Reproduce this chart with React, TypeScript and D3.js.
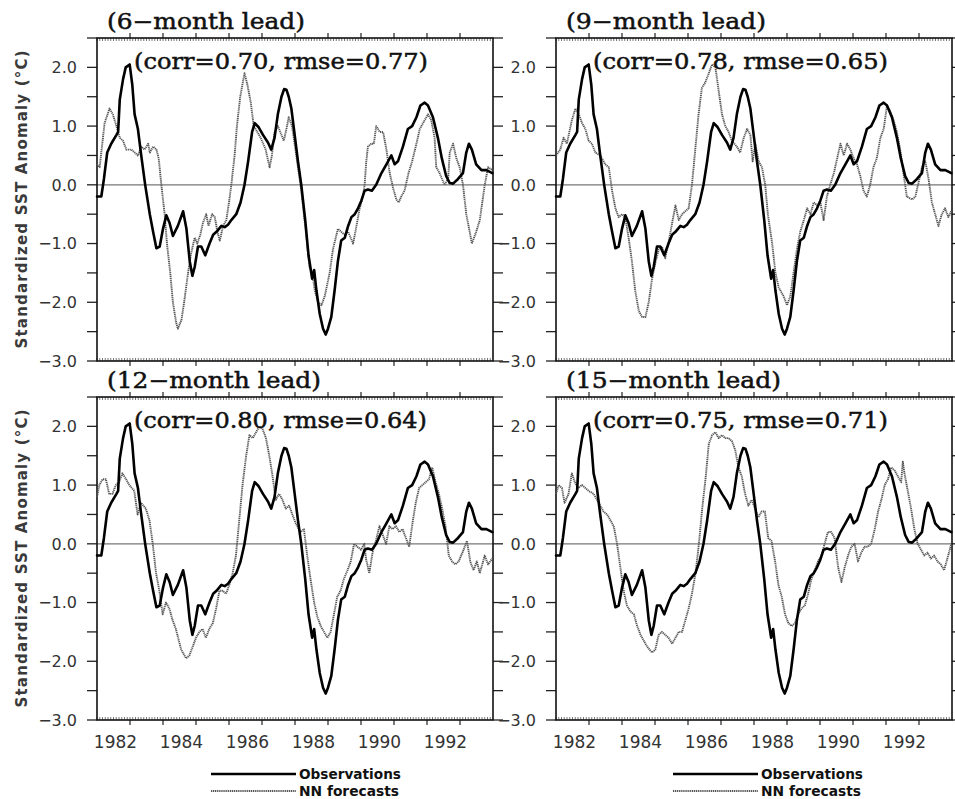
import React from "react";
import * as d3 from "d3";

// Niño-3 standardized SST anomaly, observed (monthly, smoothed)
const observations: [number, number][] = [
  [1982.0, -0.2], [1982.13, -0.2], [1982.21, 0.1], [1982.31, 0.55], [1982.43, 0.7],
  [1982.59, 0.85], [1982.64, 0.9], [1982.69, 1.45], [1982.79, 1.8], [1982.87, 2.0],
  [1982.99, 2.05], [1983.07, 1.7], [1983.14, 1.2], [1983.24, 0.95], [1983.34, 0.5],
  [1983.46, 0.0], [1983.6, -0.5], [1983.7, -0.8], [1983.8, -1.08], [1983.9, -1.05],
  [1984.0, -0.75], [1984.1, -0.52], [1984.2, -0.65], [1984.3, -0.87], [1984.45, -0.7],
  [1984.61, -0.45], [1984.71, -0.75], [1984.81, -1.3], [1984.89, -1.55], [1984.96, -1.4],
  [1985.06, -1.05], [1985.16, -1.05], [1985.28, -1.2], [1985.41, -1.0], [1985.52, -0.85],
  [1985.62, -0.8], [1985.77, -0.7], [1985.87, -0.72], [1985.97, -0.68], [1986.07, -0.6],
  [1986.22, -0.5], [1986.35, -0.3], [1986.47, 0.0], [1986.58, 0.4], [1986.7, 0.9],
  [1986.78, 1.05], [1986.9, 0.98], [1987.03, 0.85], [1987.18, 0.72], [1987.28, 0.6],
  [1987.38, 0.8], [1987.48, 1.2], [1987.59, 1.5], [1987.67, 1.63], [1987.74, 1.62],
  [1987.81, 1.5], [1987.89, 1.3], [1987.99, 0.85], [1988.09, 0.4], [1988.19, 0.0],
  [1988.31, -0.6], [1988.41, -1.2], [1988.52, -1.6], [1988.58, -1.45], [1988.65, -1.8],
  [1988.75, -2.2], [1988.85, -2.45], [1988.93, -2.55], [1989.0, -2.45], [1989.1, -2.25],
  [1989.2, -1.8], [1989.3, -1.3], [1989.4, -0.95], [1989.51, -0.9], [1989.61, -0.7],
  [1989.71, -0.55], [1989.81, -0.5], [1989.91, -0.4], [1990.01, -0.27], [1990.11, -0.1],
  [1990.21, -0.08], [1990.33, -0.1], [1990.46, 0.0], [1990.62, 0.2], [1990.77, 0.35],
  [1990.92, 0.5], [1991.02, 0.35], [1991.12, 0.4], [1991.27, 0.65], [1991.42, 0.95],
  [1991.55, 1.0], [1991.68, 1.15], [1991.8, 1.35], [1991.93, 1.4], [1992.03, 1.35],
  [1992.18, 1.15], [1992.33, 0.8], [1992.45, 0.45], [1992.58, 0.15], [1992.69, 0.03],
  [1992.79, 0.02], [1992.94, 0.1], [1993.09, 0.2], [1993.19, 0.55], [1993.27, 0.7],
  [1993.36, 0.6], [1993.49, 0.35], [1993.65, 0.25], [1993.8, 0.25], [1993.98, 0.2],
];

// Neural-network forecasts at each lead time
const lead6: [number, number][] = [
  [1982.0, 0.35], [1982.08, 0.3], [1982.23, 1.05], [1982.38, 1.3], [1982.48, 1.2],
  [1982.59, 1.0], [1982.69, 0.8], [1982.79, 0.75], [1982.89, 0.6], [1983.04, 0.6],
  [1983.14, 0.55], [1983.24, 0.5], [1983.34, 0.65], [1983.44, 0.6], [1983.55, 0.7],
  [1983.6, 0.55], [1983.7, 0.65], [1983.8, 0.6], [1983.87, 0.45], [1983.95, 0.0],
  [1984.05, -0.5], [1984.12, -1.0], [1984.22, -1.5], [1984.3, -2.0], [1984.4, -2.35],
  [1984.45, -2.45], [1984.56, -2.3], [1984.64, -2.0], [1984.76, -1.5], [1984.84, -1.2],
  [1984.96, -0.9], [1985.04, -1.0], [1985.13, -0.85], [1985.21, -0.65], [1985.31, -0.5],
  [1985.38, -0.7], [1985.49, -0.5], [1985.57, -0.55], [1985.65, -0.8], [1985.72, -0.95],
  [1985.82, -0.7], [1985.92, -0.6], [1986.0, -0.3], [1986.07, 0.0], [1986.17, 0.5],
  [1986.24, 1.0], [1986.34, 1.5], [1986.47, 1.9], [1986.56, 1.7], [1986.66, 1.4],
  [1986.75, 1.0], [1986.86, 0.9], [1986.96, 0.8], [1987.11, 0.6], [1987.23, 0.3],
  [1987.3, 0.5], [1987.38, 0.9], [1987.48, 1.0], [1987.59, 0.85], [1987.66, 0.75],
  [1987.74, 0.95], [1987.81, 1.15], [1987.91, 1.0], [1988.04, 0.5], [1988.19, -0.1],
  [1988.31, -0.7], [1988.44, -1.4], [1988.52, -1.5], [1988.6, -1.8], [1988.7, -2.0],
  [1988.8, -2.05], [1988.9, -1.9], [1989.05, -1.5], [1989.15, -1.1], [1989.3, -0.75],
  [1989.4, -0.8], [1989.51, -0.85], [1989.61, -0.8], [1989.76, -1.0], [1989.83, -0.8],
  [1989.96, -0.4], [1990.06, -0.2], [1990.11, 0.0], [1990.16, 0.4], [1990.21, 0.65],
  [1990.31, 0.7], [1990.39, 0.7], [1990.46, 1.0], [1990.57, 0.9], [1990.67, 0.9],
  [1990.77, 0.6], [1990.87, 0.2], [1990.97, -0.05], [1991.07, -0.25], [1991.14, -0.3],
  [1991.22, -0.2], [1991.32, -0.1], [1991.44, 0.2], [1991.55, 0.4], [1991.68, 0.7],
  [1991.78, 0.95], [1991.88, 1.05], [1992.03, 1.2], [1992.13, 1.1], [1992.23, 0.8],
  [1992.28, 0.3], [1992.38, 0.2], [1992.53, 0.0], [1992.64, 0.1], [1992.69, 0.55],
  [1992.79, 0.7], [1992.89, 0.45], [1992.99, 0.3], [1993.09, 0.0], [1993.19, -0.5],
  [1993.26, -0.7], [1993.36, -1.0], [1993.49, -0.8], [1993.6, -0.6], [1993.75, 0.0],
  [1993.85, 0.3], [1993.98, 0.25],
];

const lead9: [number, number][] = [
  [1982.0, 0.5], [1982.13, 0.6], [1982.23, 0.8], [1982.33, 0.7], [1982.48, 1.1],
  [1982.59, 1.3], [1982.69, 1.2], [1982.79, 1.05], [1982.89, 0.95], [1982.99, 0.75],
  [1983.09, 0.7], [1983.19, 0.55], [1983.34, 0.5], [1983.49, 0.35], [1983.6, 0.3],
  [1983.7, -0.1], [1983.8, -0.4], [1983.9, -0.55], [1984.0, -0.5], [1984.1, -0.55],
  [1984.2, -0.9], [1984.3, -1.3], [1984.4, -1.8], [1984.51, -2.15], [1984.61, -2.25],
  [1984.71, -2.25], [1984.81, -2.0], [1984.91, -1.6], [1985.02, -1.3], [1985.12, -1.1],
  [1985.21, -1.05], [1985.31, -1.25], [1985.42, -0.95], [1985.52, -0.65], [1985.62, -0.35],
  [1985.72, -0.6], [1985.82, -0.5], [1985.92, -0.45], [1986.02, -0.4], [1986.12, 0.0],
  [1986.22, 0.6], [1986.32, 1.2], [1986.42, 1.65], [1986.53, 1.75], [1986.63, 1.9],
  [1986.73, 2.05], [1986.83, 2.0], [1986.93, 1.6], [1987.03, 1.2], [1987.13, 1.0],
  [1987.23, 0.9], [1987.33, 0.75], [1987.48, 0.65], [1987.58, 0.55], [1987.69, 0.8],
  [1987.79, 0.95], [1987.89, 0.85], [1987.96, 0.4], [1988.04, 0.7], [1988.14, 0.4],
  [1988.24, 0.3], [1988.34, 0.0], [1988.42, -0.5], [1988.55, -1.0], [1988.65, -1.5],
  [1988.75, -1.75], [1988.9, -1.9], [1989.0, -2.05], [1989.1, -1.9], [1989.2, -1.5],
  [1989.3, -1.1], [1989.4, -0.8], [1989.51, -0.6], [1989.61, -0.4], [1989.71, -0.5],
  [1989.81, -0.3], [1989.91, -0.35], [1990.01, -0.3], [1990.11, -0.6], [1990.21, -0.2],
  [1990.31, 0.0], [1990.42, 0.2], [1990.52, 0.45], [1990.62, 0.7], [1990.72, 0.5],
  [1990.82, 0.7], [1990.92, 0.6], [1991.02, 0.45], [1991.12, 0.35], [1991.22, 0.15],
  [1991.32, -0.1], [1991.42, -0.2], [1991.52, 0.0], [1991.62, 0.3], [1991.72, 0.45],
  [1991.83, 0.8], [1991.93, 0.95], [1992.03, 1.35], [1992.13, 1.25], [1992.23, 1.1],
  [1992.33, 0.9], [1992.43, 0.6], [1992.53, 0.2], [1992.63, -0.2], [1992.79, -0.25],
  [1992.89, -0.2], [1992.99, 0.05], [1993.09, 0.3], [1993.19, 0.4], [1993.29, 0.1],
  [1993.39, -0.3], [1993.49, -0.5], [1993.59, -0.7], [1993.69, -0.5], [1993.79, -0.4],
  [1993.89, -0.55], [1993.98, -0.45],
];

const lead12: [number, number][] = [
  [1982.0, 0.8], [1982.07, 1.0], [1982.17, 1.1], [1982.27, 1.1], [1982.37, 0.85],
  [1982.47, 0.85], [1982.57, 1.0], [1982.67, 1.05], [1982.77, 1.2], [1982.88, 1.1],
  [1982.98, 1.0], [1983.13, 0.9], [1983.23, 0.5], [1983.33, 0.7], [1983.48, 0.6],
  [1983.59, 0.4], [1983.69, 0.0], [1983.79, -0.5], [1983.89, -0.8], [1983.99, -1.2],
  [1984.09, -1.0], [1984.19, -1.1], [1984.29, -1.3], [1984.39, -1.45], [1984.55, -1.8],
  [1984.7, -1.95], [1984.8, -1.9], [1984.9, -1.75], [1985.0, -1.6], [1985.1, -1.5],
  [1985.2, -1.45], [1985.3, -1.6], [1985.4, -1.45], [1985.51, -1.35], [1985.61, -1.1],
  [1985.71, -0.8], [1985.81, -0.8], [1985.91, -0.85], [1986.01, -0.7], [1986.11, -0.5],
  [1986.21, -0.2], [1986.31, 0.4], [1986.41, 1.0], [1986.52, 1.5], [1986.62, 1.85],
  [1986.72, 1.8], [1986.82, 1.9], [1986.92, 2.0], [1987.02, 1.95], [1987.12, 1.8],
  [1987.22, 1.5], [1987.32, 1.15], [1987.42, 0.75], [1987.52, 0.85], [1987.62, 0.75],
  [1987.72, 0.6], [1987.82, 0.65], [1987.92, 0.5], [1988.02, 0.35], [1988.17, 0.2],
  [1988.27, 0.25], [1988.37, -0.2], [1988.47, -0.6], [1988.58, -1.0], [1988.68, -1.25],
  [1988.78, -1.4], [1988.88, -1.5], [1988.98, -1.6], [1989.08, -1.5], [1989.18, -1.2],
  [1989.28, -0.9], [1989.38, -0.8], [1989.48, -0.6], [1989.59, -0.45], [1989.69, -0.3],
  [1989.79, 0.0], [1989.89, -0.05], [1990.0, -0.1], [1990.1, 0.0], [1990.15, -0.25],
  [1990.25, -0.5], [1990.35, -0.15], [1990.45, 0.05], [1990.56, 0.3], [1990.66, 0.15],
  [1990.76, 0.0], [1990.86, 0.3], [1990.96, 0.25], [1991.06, 0.3], [1991.16, 0.2],
  [1991.26, 0.25], [1991.36, 0.1], [1991.46, -0.05], [1991.56, 0.35], [1991.66, 0.7],
  [1991.76, 0.95], [1991.86, 1.0], [1991.96, 1.05], [1992.06, 1.1], [1992.16, 1.3],
  [1992.26, 1.05], [1992.36, 0.85], [1992.46, 0.6], [1992.56, 0.3], [1992.66, -0.2],
  [1992.76, -0.3], [1992.86, -0.35], [1992.96, -0.3], [1993.11, -0.1], [1993.21, 0.05],
  [1993.31, -0.3], [1993.41, -0.45], [1993.51, -0.3], [1993.6, -0.5], [1993.75, -0.2],
  [1993.85, -0.35], [1993.98, -0.25],
];

const lead15: [number, number][] = [
  [1982.0, 0.85], [1982.08, 1.0], [1982.18, 0.95], [1982.26, 0.7], [1982.38, 0.85],
  [1982.48, 1.2], [1982.57, 1.05], [1982.67, 0.95], [1982.79, 1.0], [1982.89, 0.95],
  [1982.99, 0.9], [1983.14, 0.85], [1983.24, 0.75], [1983.34, 0.65], [1983.44, 0.55],
  [1983.55, 0.5], [1983.65, 0.4], [1983.75, 0.3], [1983.85, 0.0], [1983.95, -0.4],
  [1984.05, -0.8], [1984.15, -1.05], [1984.25, -1.15], [1984.36, -1.2], [1984.46, -1.4],
  [1984.56, -1.55], [1984.66, -1.65], [1984.76, -1.75], [1984.91, -1.85], [1985.01, -1.8],
  [1985.11, -1.55], [1985.21, -1.5], [1985.31, -1.55], [1985.41, -1.6], [1985.52, -1.7],
  [1985.62, -1.6], [1985.72, -1.5], [1985.82, -1.5], [1985.92, -1.3], [1986.02, -1.1],
  [1986.12, -0.85], [1986.23, -0.5], [1986.33, 0.0], [1986.43, 0.6], [1986.53, 1.1],
  [1986.63, 1.7], [1986.73, 1.85], [1986.83, 1.9], [1986.93, 1.8], [1987.03, 1.85],
  [1987.13, 1.8], [1987.23, 1.8], [1987.33, 1.75], [1987.43, 1.6], [1987.53, 1.3],
  [1987.63, 1.15], [1987.73, 0.85], [1987.83, 0.65], [1987.93, 0.75], [1988.03, 0.6],
  [1988.13, 0.45], [1988.23, 0.55], [1988.33, 0.55], [1988.43, 0.1], [1988.53, 0.05],
  [1988.64, -0.3], [1988.74, -0.7], [1988.84, -0.9], [1988.94, -1.2], [1989.04, -1.35],
  [1989.14, -1.4], [1989.24, -1.35], [1989.34, -1.2], [1989.44, -1.1], [1989.54, -1.05],
  [1989.64, -0.85], [1989.74, -0.6], [1989.84, -0.45], [1989.94, -0.3], [1990.04, -0.2],
  [1990.14, 0.0], [1990.24, 0.2], [1990.34, 0.2], [1990.44, 0.1], [1990.55, -0.4],
  [1990.65, -0.65], [1990.75, -0.4], [1990.85, -0.2], [1990.95, -0.05], [1991.05, 0.0],
  [1991.15, -0.3], [1991.25, -0.15], [1991.35, -0.05], [1991.45, -0.05], [1991.55, 0.0],
  [1991.66, 0.25], [1991.76, 0.55], [1991.86, 0.75], [1991.96, 1.0], [1992.06, 1.1],
  [1992.16, 1.3], [1992.26, 1.25], [1992.36, 1.15], [1992.46, 1.05], [1992.51, 1.4],
  [1992.56, 1.2], [1992.66, 0.9], [1992.76, 0.6], [1992.86, 0.25], [1992.96, 0.0],
  [1993.06, -0.1], [1993.16, -0.2], [1993.26, -0.15], [1993.36, -0.25], [1993.46, -0.2],
  [1993.56, -0.3], [1993.66, -0.35], [1993.76, -0.45], [1993.86, -0.25], [1993.98, 0.0],
];

const leadTitles = ["(6−month lead)", "(9−month lead)", "(12−month lead)", "(15−month lead)"];
const skillLabels = [
  "(corr=0.70, rmse=0.77)",
  "(corr=0.78, rmse=0.65)",
  "(corr=0.80, rmse=0.64)",
  "(corr=0.75, rmse=0.71)",
];
const yearLabels = [1982, 1984, 1986, 1988, 1990, 1992];
const yTickLabels = [-3, -2, -1, 0, 1, 2];
const legendLabels = ["Observations", "NN forecasts"];
const yAxisTitle = "Standardized SST Anomaly (°C)";

const W = 955;
const H = 799;
const PANEL_W = 396;
const PANEL_H = 323;
const X_DOMAIN: [number, number] = [1982, 1994];
const Y_DOMAIN: [number, number] = [-3, 2.5];

const fmt = d3.format(".1f");
const serif = "'DejaVu Serif', 'Liberation Serif', serif";
const sans = "'DejaVu Sans', 'Liberation Sans', sans-serif";

type PanelProps = {
  left: number;
  top: number;
  title: string;
  titleWidth: number;
  skill: string;
  skillWidth: number;
  forecast: [number, number][];
  showYears: boolean;
  showYTitle: boolean;
};

function Panel({ left, top, title, titleWidth, skill, skillWidth, forecast, showYears, showYTitle }: PanelProps) {
  const x = d3.scaleLinear().domain(X_DOMAIN).range([left, left + PANEL_W]);
  const y = d3.scaleLinear().domain(Y_DOMAIN).range([top + PANEL_H, top]);
  const line = d3
    .line<[number, number]>()
    .x((d) => x(d[0]))
    .y((d) => y(d[1]));

  const halfTicks = d3.range(Y_DOMAIN[0], Y_DOMAIN[1] + 0.01, 0.5);
  const yearTicks = d3.range(X_DOMAIN[0] + 1, X_DOMAIN[1], 1);
  const monthTicks = d3.range(X_DOMAIN[0], X_DOMAIN[1], 1 / 12);
  const right = left + PANEL_W;
  const bottom = top + PANEL_H;

  return (
    <g>
      {/* monthly minor ticks along top and bottom edges */}
      {monthTicks.map((t, i) => (
        <g key={"m" + i} stroke="#555" strokeWidth={0.8}>
          <line x1={x(t)} x2={x(t)} y1={top} y2={top + 3} />
          <line x1={x(t)} x2={x(t)} y1={bottom} y2={bottom - 3} />
        </g>
      ))}
      {/* yearly ticks, outward */}
      {yearTicks.map((t) => (
        <g key={"yr" + t} stroke="#222" strokeWidth={1.2}>
          <line x1={x(t)} x2={x(t)} y1={top} y2={top - 5} />
          <line x1={x(t)} x2={x(t)} y1={bottom} y2={bottom + 5} />
        </g>
      ))}
      {/* half-unit ticks on both vertical edges, outward */}
      {halfTicks.map((v) => (
        <g key={"h" + v} stroke="#222" strokeWidth={1.3}>
          <line x1={left - 10} x2={left} y1={y(v)} y2={y(v)} />
          <line x1={right} x2={right + 10} y1={y(v)} y2={y(v)} />
        </g>
      ))}
      {/* zero line */}
      <line x1={left} x2={right} y1={y(0)} y2={y(0)} stroke="#777" strokeWidth={1.3} />
      {/* frame */}
      <rect x={left} y={top} width={PANEL_W} height={PANEL_H} fill="none" stroke="#111" strokeWidth={1.6} />

      {/* forecast (dotted gray) and observations (solid black) */}
      <path d={line(forecast) ?? ""} fill="none" stroke="#555" strokeWidth={1.9} strokeDasharray="1.2 0.7" strokeLinejoin="round" />
      <path d={line(observations) ?? ""} fill="none" stroke="#000" strokeWidth={2.6} strokeLinejoin="round" strokeLinecap="round" />

      {/* y tick labels */}
      {yTickLabels.map((v) => (
        <text
          key={"yl" + v}
          x={left - 20}
          y={y(v)}
          dy="0.36em"
          textAnchor="end"
          fontFamily={sans}
          fontSize={16}
          fill="#333"
        >
          {fmt(v)}
        </text>
      ))}

      {showYears &&
        yearLabels.map((yr) => (
          <text
            key={"xl" + yr}
            x={x(yr + 0.5) + 2}
            y={bottom + 28}
            textAnchor="middle"
            fontFamily={sans}
            fontSize={17}
            fill="#333"
          >
            {yr}
          </text>
        ))}

      {showYTitle && (
        <text
          transform={`translate(27, ${top + PANEL_H / 2}) rotate(-90)`}
          textAnchor="middle"
          fontFamily={sans}
          fontWeight="bold"
          fontSize={15}
          fill="#3a3a3a"
          textLength={298}
          lengthAdjust="spacing"
        >
          {yAxisTitle}
        </text>
      )}

      <text
        x={left + 10}
        y={top - 9}
        fontFamily={serif}
        fontSize={22}
        fill="#111"
        stroke="#111"
        strokeWidth={0.5}
        textLength={titleWidth}
        lengthAdjust="spacingAndGlyphs"
      >
        {title}
      </text>
      <text
        x={left + 37}
        y={top + 31}
        fontFamily={serif}
        fontSize={22}
        fill="#111"
        stroke="#111"
        strokeWidth={0.5}
        textLength={skillWidth}
        lengthAdjust="spacingAndGlyphs"
      >
        {skill}
      </text>
    </g>
  );
}

function Legend({ x0, y0 }: { x0: number; y0: number }) {
  return (
    <g>
      <line x1={x0} x2={x0 + 85} y1={y0} y2={y0} stroke="#000" strokeWidth={2.4} />
      <text x={x0 + 88} y={y0 + 5} fontFamily={sans} fontWeight="bold" fontSize={14} fill="#111" textLength={102} lengthAdjust="spacingAndGlyphs">
        {legendLabels[0]}
      </text>
      <line x1={x0} x2={x0 + 85} y1={y0 + 17} y2={y0 + 17} stroke="#555" strokeWidth={1.9} strokeDasharray="1.2 0.7" />
      <text x={x0 + 88} y={y0 + 22} fontFamily={sans} fontWeight="bold" fontSize={14} fill="#111" textLength={100} lengthAdjust="spacingAndGlyphs">
        {legendLabels[1]}
      </text>
    </g>
  );
}

export default function App() {
  const panels = [
    { left: 97, top: 38, forecast: lead6, titleWidth: 198, skillWidth: 294, showYears: false, showYTitle: true },
    { left: 556, top: 38, forecast: lead9, titleWidth: 200, skillWidth: 295, showYears: false, showYTitle: false },
    { left: 97, top: 397, forecast: lead12, titleWidth: 214, skillWidth: 293, showYears: true, showYTitle: true },
    { left: 556, top: 397, forecast: lead15, titleWidth: 215, skillWidth: 295, showYears: true, showYTitle: false },
  ];
  return (
    <svg
      width={W}
      height={H}
      viewBox={`0 0 ${W} ${H}`}
      style={{ position: "absolute", left: 0, top: 0, display: "block", background: "#fff" }}
    >
      <rect width={W} height={H} fill="#fff" />
      {panels.map((p, i) => (
        <Panel
          key={i}
          left={p.left}
          top={p.top}
          title={leadTitles[i]}
          titleWidth={p.titleWidth}
          skill={skillLabels[i]}
          skillWidth={p.skillWidth}
          forecast={p.forecast}
          showYears={p.showYears}
          showYTitle={p.showYTitle}
        />
      ))}
      <Legend x0={211} y0={774} />
      <Legend x0={673} y0={774} />
    </svg>
  );
}
